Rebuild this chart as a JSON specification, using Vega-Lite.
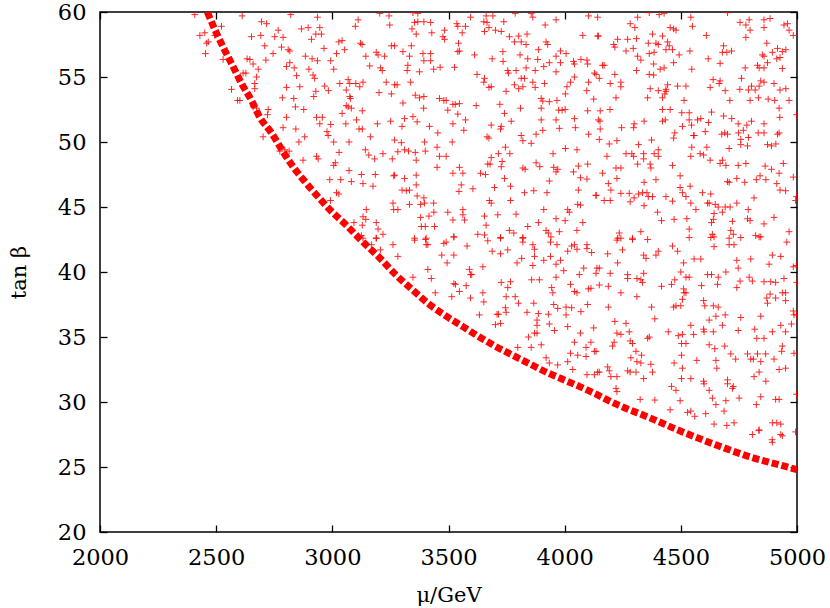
{
"$schema":"https://vega.github.io/schema/vega-lite/v6.json",
"width":697,"height":520,
"autosize":{"type":"none"},
"padding":{"left":100,"top":12,"right":33,"bottom":76},
"background":"white",
"config":{"view":{"stroke":"#000000","strokeWidth":1.5},"font":"DejaVu Serif",
"axis":{"grid":false,"domain":false,"tickColor":"#000000","tickWidth":1.3,"tickSize":-7,"labelFlush":false,"labelFont":"DejaVu Serif","labelFontSize":22.5,"labelColor":"#000000","titleFont":"DejaVu Serif","titleFontSize":21,"titleFontWeight":"normal","titleColor":"#000000"}},
"datasets":{
"curve":[{"mu":2462,"tb":60.0},{"mu":2502,"tb":58.35},{"mu":2530,"tb":57.3},{"mu":2573,"tb":55.8},{"mu":2609,"tb":54.5},{"mu":2652,"tb":53.2},{"mu":2688,"tb":51.9},{"mu":2738,"tb":50.7},{"mu":2788,"tb":49.25},{"mu":2831,"tb":48.1},{"mu":2889,"tb":46.8},{"mu":2953,"tb":45.5},{"mu":2989,"tb":44.8},{"mu":3060,"tb":43.6},{"mu":3132,"tb":42.3},{"mu":3203,"tb":41.1},{"mu":3275,"tb":39.75},{"mu":3347,"tb":38.6},{"mu":3418,"tb":37.5},{"mu":3490,"tb":36.6},{"mu":3562,"tb":35.8},{"mu":3633,"tb":35.0},{"mu":3705,"tb":34.25},{"mu":3776,"tb":33.6},{"mu":3848,"tb":32.95},{"mu":3920,"tb":32.3},{"mu":3991,"tb":31.75},{"mu":4063,"tb":31.2},{"mu":4135,"tb":30.6},{"mu":4220,"tb":29.85},{"mu":4364,"tb":28.8},{"mu":4507,"tb":27.7},{"mu":4651,"tb":26.7},{"mu":4794,"tb":25.8},{"mu":4937,"tb":25.1},{"mu":5000,"tb":24.8}],
"pts":[
{"mu":2408,"tb":59.8},{"mu":2612,"tb":59.7},{"mu":2821,"tb":59.8},{"mu":2936,"tb":59.6},{"mu":3204,"tb":59.9},{"mu":3244,"tb":59.7},{"mu":2695,"tb":59.25},{"mu":2717,"tb":59.1},{"mu":2523,"tb":58.9},{"mu":2867,"tb":58.7},{"mu":2896,"tb":58.8},{"mu":2946,"tb":58.8},{"mu":3099,"tb":58.9},{"mu":3111,"tb":59.4},{"mu":3247,"tb":59.0},{"mu":2430,"tb":58.2},{"mu":2451,"tb":58.4},{"mu":2494,"tb":58.2},{"mu":2652,"tb":58.1},{"mu":2692,"tb":58.2},{"mu":2752,"tb":58.1},{"mu":2767,"tb":58.6},{"mu":2788,"tb":58.05},{"mu":2929,"tb":58.3},{"mu":2953,"tb":58.3},{"mu":2910,"tb":57.9},{"mu":2466,"tb":57.7},{"mu":2459,"tb":57.6},{"mu":3028,"tb":57.7},{"mu":3042,"tb":57.8},{"mu":3121,"tb":57.6},{"mu":3128,"tb":57.5},{"mu":3254,"tb":57.4},{"mu":2709,"tb":57.4},{"mu":2781,"tb":57.3},{"mu":2810,"tb":57.1},{"mu":2817,"tb":57.0},{"mu":2964,"tb":57.2},{"mu":2454,"tb":56.8},{"mu":2745,"tb":56.8},{"mu":3018,"tb":56.8},{"mu":3053,"tb":57.1},{"mu":3189,"tb":56.9},{"mu":3197,"tb":56.7},{"mu":2884,"tb":56.6},{"mu":2913,"tb":56.4},{"mu":2936,"tb":56.25},{"mu":3144,"tb":56.6},{"mu":3225,"tb":56.6},{"mu":2530,"tb":56.35},{"mu":2633,"tb":56.4},{"mu":2645,"tb":56.35},{"mu":2714,"tb":56.3},{"mu":2817,"tb":56.1},{"mu":2993,"tb":56.25},{"mu":2659,"tb":56.0},{"mu":2803,"tb":55.8},{"mu":2836,"tb":55.7},{"mu":2899,"tb":55.6},{"mu":3006,"tb":55.6},{"mu":3161,"tb":55.85},{"mu":3207,"tb":55.7},{"mu":3215,"tb":55.5},{"mu":2681,"tb":55.6},{"mu":2616,"tb":55.3},{"mu":2628,"tb":55.3},{"mu":2846,"tb":55.1},{"mu":2917,"tb":55.15},{"mu":2924,"tb":54.9},{"mu":2674,"tb":55.0},{"mu":2666,"tb":54.5},{"mu":3032,"tb":54.5},{"mu":3068,"tb":54.8},{"mu":3075,"tb":54.5},{"mu":3101,"tb":54.5},{"mu":3118,"tb":54.25},{"mu":3132,"tb":54.6},{"mu":3232,"tb":54.6},{"mu":3268,"tb":54.4},{"mu":2566,"tb":54.05},{"mu":2803,"tb":54.2},{"mu":2860,"tb":54.25},{"mu":2929,"tb":53.9},{"mu":2967,"tb":54.3},{"mu":2983,"tb":53.95},{"mu":2666,"tb":54.1},{"mu":3060,"tb":54.0},{"mu":3075,"tb":53.5},{"mu":3078,"tb":53.35},{"mu":3201,"tb":53.8},{"mu":2592,"tb":53.2},{"mu":2602,"tb":53.2},{"mu":2785,"tb":53.4},{"mu":2834,"tb":53.35},{"mu":2920,"tb":53.5},{"mu":3254,"tb":53.7},{"mu":3060,"tb":52.8},{"mu":3068,"tb":52.7},{"mu":3082,"tb":52.6},{"mu":2659,"tb":52.7},{"mu":2674,"tb":52.6},{"mu":2724,"tb":52.5},{"mu":2721,"tb":52.1},{"mu":2841,"tb":52.7},{"mu":2877,"tb":52.5},{"mu":3129,"tb":52.4},{"mu":3042,"tb":52.2},{"mu":3104,"tb":51.7},{"mu":2803,"tb":51.9},{"mu":2932,"tb":51.9},{"mu":2957,"tb":51.9},{"mu":3251,"tb":51.6},{"mu":2993,"tb":51.35},{"mu":2946,"tb":51.4},{"mu":3058,"tb":51.4},{"mu":3194,"tb":51.4},{"mu":2788,"tb":51.1},{"mu":2843,"tb":51.0},{"mu":2977,"tb":50.8},{"mu":3115,"tb":51.0},{"mu":3129,"tb":51.0},{"mu":2702,"tb":50.4},{"mu":2881,"tb":50.4},{"mu":2856,"tb":50.0},{"mu":2982,"tb":50.5},{"mu":3006,"tb":50.0},{"mu":3072,"tb":50.0},{"mu":3164,"tb":50.4},{"mu":2795,"tb":49.4},{"mu":2774,"tb":49.3},{"mu":2814,"tb":49.3},{"mu":2932,"tb":48.9},{"mu":2939,"tb":48.7},{"mu":3029,"tb":49.2},{"mu":2874,"tb":48.6},{"mu":3142,"tb":49.4},{"mu":3157,"tb":49.0},{"mu":3218,"tb":49.1},{"mu":3258,"tb":48.7},{"mu":3182,"tb":48.7},{"mu":3006,"tb":48.2},{"mu":3013,"tb":48.4},{"mu":3072,"tb":47.8},{"mu":3125,"tb":47.5},{"mu":3185,"tb":47.5},{"mu":3264,"tb":47.4},{"mu":2989,"tb":47.1},{"mu":3036,"tb":47.1},{"mu":3082,"tb":46.95},{"mu":3132,"tb":46.8},{"mu":3175,"tb":46.6},{"mu":3018,"tb":46.1},{"mu":3028,"tb":46.0},{"mu":2992,"tb":45.5},{"mu":3261,"tb":45.3},{"mu":3264,"tb":44.8},{"mu":3146,"tb":44.8},{"mu":3132,"tb":44.25},{"mu":3144,"tb":44.05},{"mu":3093,"tb":43.8},{"mu":3189,"tb":43.8},{"mu":3129,"tb":43.6},{"mu":3197,"tb":43.3},{"mu":3218,"tb":42.9},{"mu":3125,"tb":42.8},{"mu":3189,"tb":42.6},
{"mu":3347,"tb":59.95},{"mu":3368,"tb":59.9},{"mu":3595,"tb":59.6},{"mu":3662,"tb":59.7},{"mu":3691,"tb":59.7},{"mu":3787,"tb":59.9},{"mu":3856,"tb":59.9},{"mu":3863,"tb":59.6},{"mu":3963,"tb":59.4},{"mu":4103,"tb":59.7},{"mu":3354,"tb":59.2},{"mu":3368,"tb":59.25},{"mu":3394,"tb":59.25},{"mu":3423,"tb":59.2},{"mu":3343,"tb":58.7},{"mu":3361,"tb":58.3},{"mu":3428,"tb":58.4},{"mu":3483,"tb":58.6},{"mu":3476,"tb":58.1},{"mu":3483,"tb":57.9},{"mu":3536,"tb":59.1},{"mu":3540,"tb":58.9},{"mu":3573,"tb":58.9},{"mu":3559,"tb":58.4},{"mu":3652,"tb":59.25},{"mu":3666,"tb":59.2},{"mu":3674,"tb":58.8},{"mu":3702,"tb":58.6},{"mu":3727,"tb":58.5},{"mu":3655,"tb":58.5},{"mu":3738,"tb":59.25},{"mu":3762,"tb":58.1},{"mu":3784,"tb":57.7},{"mu":3802,"tb":58.15},{"mu":3838,"tb":58.3},{"mu":3813,"tb":57.7},{"mu":3834,"tb":57.5},{"mu":3916,"tb":59.0},{"mu":3920,"tb":57.7},{"mu":3927,"tb":57.5},{"mu":4078,"tb":58.2},{"mu":4142,"tb":58.15},{"mu":3268,"tb":57.4},{"mu":3304,"tb":56.95},{"mu":3340,"tb":57.4},{"mu":3332,"tb":56.6},{"mu":3390,"tb":56.8},{"mu":3423,"tb":56.8},{"mu":3394,"tb":56.25},{"mu":3423,"tb":56.25},{"mu":3325,"tb":55.9},{"mu":3322,"tb":55.5},{"mu":3375,"tb":55.4},{"mu":3436,"tb":55.6},{"mu":3464,"tb":55.75},{"mu":3526,"tb":55.75},{"mu":3543,"tb":57.6},{"mu":3547,"tb":57.0},{"mu":3540,"tb":56.95},{"mu":3612,"tb":56.7},{"mu":3688,"tb":56.4},{"mu":3734,"tb":56.95},{"mu":3735,"tb":56.2},{"mu":3808,"tb":56.7},{"mu":3841,"tb":56.4},{"mu":3884,"tb":56.35},{"mu":3887,"tb":57.1},{"mu":3934,"tb":56.1},{"mu":3963,"tb":56.6},{"mu":3982,"tb":57.0},{"mu":4006,"tb":56.8},{"mu":3982,"tb":56.1},{"mu":4038,"tb":56.2},{"mu":4042,"tb":56.0},{"mu":4070,"tb":56.35},{"mu":4096,"tb":56.3},{"mu":4099,"tb":56.0},{"mu":4135,"tb":55.2},{"mu":3755,"tb":55.5},{"mu":3758,"tb":55.3},{"mu":3791,"tb":55.5},{"mu":3834,"tb":55.7},{"mu":3873,"tb":55.5},{"mu":3910,"tb":55.8},{"mu":3963,"tb":55.4},{"mu":3623,"tb":55.2},{"mu":3655,"tb":54.9},{"mu":3652,"tb":54.6},{"mu":3674,"tb":54.2},{"mu":3684,"tb":54.25},{"mu":3748,"tb":53.9},{"mu":3784,"tb":54.4},{"mu":3802,"tb":54.1},{"mu":3820,"tb":54.25},{"mu":3813,"tb":54.9},{"mu":3827,"tb":54.9},{"mu":3863,"tb":54.6},{"mu":3873,"tb":54.2},{"mu":3913,"tb":54.5},{"mu":4010,"tb":54.25},{"mu":4025,"tb":54.6},{"mu":4042,"tb":55.0},{"mu":4103,"tb":54.6},{"mu":4095,"tb":53.95},{"mu":3279,"tb":54.4},{"mu":3337,"tb":54.6},{"mu":3357,"tb":53.6},{"mu":3375,"tb":53.4},{"mu":3394,"tb":53.5},{"mu":3461,"tb":53.35},{"mu":3480,"tb":53.2},{"mu":3490,"tb":53.2},{"mu":3519,"tb":52.9},{"mu":3529,"tb":52.9},{"mu":3547,"tb":52.95},{"mu":3619,"tb":52.8},{"mu":3721,"tb":52.9},{"mu":3810,"tb":52.6},{"mu":3899,"tb":53.35},{"mu":3906,"tb":53.15},{"mu":3899,"tb":52.6},{"mu":3934,"tb":53.1},{"mu":3967,"tb":53.2},{"mu":4003,"tb":53.7},{"mu":3974,"tb":52.45},{"mu":3989,"tb":52.45},{"mu":4002,"tb":52.5},{"mu":4099,"tb":52.4},{"mu":4125,"tb":53.3},{"mu":3304,"tb":53.0},{"mu":3393,"tb":52.6},{"mu":3497,"tb":52.45},{"mu":3540,"tb":52.15},{"mu":3311,"tb":51.8},{"mu":3347,"tb":51.95},{"mu":3365,"tb":51.55},{"mu":3300,"tb":51.2},{"mu":3418,"tb":51.2},{"mu":3454,"tb":50.7},{"mu":3519,"tb":51.4},{"mu":3573,"tb":51.7},{"mu":3566,"tb":50.9},{"mu":3684,"tb":51.3},{"mu":3727,"tb":51.2},{"mu":3724,"tb":51.0},{"mu":3741,"tb":52.2},{"mu":3770,"tb":51.6},{"mu":3813,"tb":50.5},{"mu":3820,"tb":50.1},{"mu":3856,"tb":49.9},{"mu":3877,"tb":50.6},{"mu":3899,"tb":51.7},{"mu":3906,"tb":50.9},{"mu":3963,"tb":51.7},{"mu":3977,"tb":51.05},{"mu":4042,"tb":51.8},{"mu":4046,"tb":51.1},{"mu":4103,"tb":50.6},{"mu":4145,"tb":51.7},{"mu":3268,"tb":50.15},{"mu":3297,"tb":49.95},{"mu":3282,"tb":49.25},{"mu":3311,"tb":49.4},{"mu":3328,"tb":49.3},{"mu":3357,"tb":49.2},{"mu":3361,"tb":48.6},{"mu":3397,"tb":50.0},{"mu":3400,"tb":49.3},{"mu":3451,"tb":49.6},{"mu":3461,"tb":48.9},{"mu":3490,"tb":48.9},{"mu":3516,"tb":50.0},{"mu":3666,"tb":50.4},{"mu":3674,"tb":50.3},{"mu":3745,"tb":49.6},{"mu":3764,"tb":49.1},{"mu":3715,"tb":49.1},{"mu":3684,"tb":48.8},{"mu":3669,"tb":48.3},{"mu":3679,"tb":48.3},{"mu":3731,"tb":48.5},{"mu":3727,"tb":48.1},{"mu":3820,"tb":48.0},{"mu":3830,"tb":47.9},{"mu":3877,"tb":48.4},{"mu":3893,"tb":48.1},{"mu":3950,"tb":49.1},{"mu":3953,"tb":48.05},{"mu":3963,"tb":47.7},{"mu":3970,"tb":47.9},{"mu":4003,"tb":49.5},{"mu":4053,"tb":49.4},{"mu":4059,"tb":48.15},{"mu":4099,"tb":48.3},{"mu":3451,"tb":48.05},{"mu":3519,"tb":47.6},{"mu":3547,"tb":48.05},{"mu":3562,"tb":47.6},{"mu":3638,"tb":47.6},{"mu":3659,"tb":47.5},{"mu":3741,"tb":47.2},{"mu":3767,"tb":46.6},{"mu":3827,"tb":46.1},{"mu":3867,"tb":46.25},{"mu":3924,"tb":46.1},{"mu":3934,"tb":47.0},{"mu":4038,"tb":47.7},{"mu":4068,"tb":47.25},{"mu":4096,"tb":47.15},{"mu":4059,"tb":46.3},{"mu":4135,"tb":45.9},{"mu":3268,"tb":47.45},{"mu":3311,"tb":47.2},{"mu":3361,"tb":47.45},{"mu":3300,"tb":46.3},{"mu":3318,"tb":46.25},{"mu":3332,"tb":46.3},{"mu":3361,"tb":46.7},{"mu":3365,"tb":45.85},{"mu":3394,"tb":45.7},{"mu":3332,"tb":45.2},{"mu":3380,"tb":45.2},{"mu":3397,"tb":45.3},{"mu":3436,"tb":45.3},{"mu":3545,"tb":46.2},{"mu":3555,"tb":46.7},{"mu":3605,"tb":46.4},{"mu":3698,"tb":46.5},{"mu":3676,"tb":45.5},{"mu":3684,"tb":45.3},{"mu":3767,"tb":45.5},{"mu":3282,"tb":44.8},{"mu":3380,"tb":44.2},{"mu":3416,"tb":44.3},{"mu":3437,"tb":44.6},{"mu":3497,"tb":44.6},{"mu":3562,"tb":44.8},{"mu":3562,"tb":44.4},{"mu":3569,"tb":44.0},{"mu":3519,"tb":44.0},{"mu":3655,"tb":44.3},{"mu":3662,"tb":43.6},{"mu":3712,"tb":44.4},{"mu":3791,"tb":44.45},{"mu":3841,"tb":43.5},{"mu":3887,"tb":43.8},{"mu":3910,"tb":44.8},{"mu":3920,"tb":43.2},{"mu":3930,"tb":43.0},{"mu":3963,"tb":44.1},{"mu":4002,"tb":43.95},{"mu":4013,"tb":44.8},{"mu":4020,"tb":44.6},{"mu":4056,"tb":45.2},{"mu":4068,"tb":45.15},{"mu":4078,"tb":43.8},{"mu":4053,"tb":43.2},{"mu":3383,"tb":43.5},{"mu":3400,"tb":43.5},{"mu":3440,"tb":43.5},{"mu":3523,"tb":42.7},{"mu":3404,"tb":42.6},{"mu":3354,"tb":42.6},{"mu":3626,"tb":42.9},{"mu":3655,"tb":42.85},{"mu":3724,"tb":42.6},{"mu":3762,"tb":43.2},{"mu":3781,"tb":43.0},{"mu":3820,"tb":42.6},{"mu":3941,"tb":42.7},{"mu":3977,"tb":43.1},
{"mu":4142,"tb":59.6},{"mu":4314,"tb":59.6},{"mu":4364,"tb":59.95},{"mu":4407,"tb":59.8},{"mu":4428,"tb":59.9},{"mu":4543,"tb":59.6},{"mu":4550,"tb":58.9},{"mu":4701,"tb":59.95},{"mu":4755,"tb":59.2},{"mu":4780,"tb":59.0},{"mu":4794,"tb":59.4},{"mu":4798,"tb":58.6},{"mu":4858,"tb":59.4},{"mu":4858,"tb":58.8},{"mu":4884,"tb":59.5},{"mu":4944,"tb":59.0},{"mu":4959,"tb":59.1},{"mu":4966,"tb":58.6},{"mu":4984,"tb":58.2},{"mu":4282,"tb":59.1},{"mu":4302,"tb":58.8},{"mu":4454,"tb":58.8},{"mu":4469,"tb":58.7},{"mu":4479,"tb":58.6},{"mu":4145,"tb":58.15},{"mu":4228,"tb":57.9},{"mu":4211,"tb":57.5},{"mu":4216,"tb":57.3},{"mu":4271,"tb":57.9},{"mu":4309,"tb":57.95},{"mu":4378,"tb":58.3},{"mu":4421,"tb":58.15},{"mu":4360,"tb":57.6},{"mu":4393,"tb":57.6},{"mu":4403,"tb":57.5},{"mu":4443,"tb":57.7},{"mu":4450,"tb":57.4},{"mu":4464,"tb":57.1},{"mu":4493,"tb":56.7},{"mu":4610,"tb":58.2},{"mu":4780,"tb":58.05},{"mu":4870,"tb":57.6},{"mu":4264,"tb":57.0},{"mu":4295,"tb":57.2},{"mu":4314,"tb":56.6},{"mu":4328,"tb":56.3},{"mu":4364,"tb":56.8},{"mu":4385,"tb":56.9},{"mu":4436,"tb":57.1},{"mu":4684,"tb":57.4},{"mu":4679,"tb":56.9},{"mu":4698,"tb":56.9},{"mu":4718,"tb":57.0},{"mu":4539,"tb":57.0},{"mu":4851,"tb":56.7},{"mu":4858,"tb":56.6},{"mu":4894,"tb":56.9},{"mu":4916,"tb":57.2},{"mu":4937,"tb":56.95},{"mu":4952,"tb":57.1},{"mu":4163,"tb":55.9},{"mu":4170,"tb":55.9},{"mu":4216,"tb":55.2},{"mu":4309,"tb":55.5},{"mu":4364,"tb":55.2},{"mu":4383,"tb":56.0},{"mu":4411,"tb":55.6},{"mu":4428,"tb":55.7},{"mu":4469,"tb":56.1},{"mu":4547,"tb":55.6},{"mu":4618,"tb":56.4},{"mu":4669,"tb":56.05},{"mu":4777,"tb":55.7},{"mu":4830,"tb":55.9},{"mu":4837,"tb":55.7},{"mu":4858,"tb":55.7},{"mu":4873,"tb":56.1},{"mu":4913,"tb":56.4},{"mu":4927,"tb":56.5},{"mu":4937,"tb":55.65},{"mu":4128,"tb":55.3},{"mu":4149,"tb":54.9},{"mu":4196,"tb":54.5},{"mu":4242,"tb":54.6},{"mu":4242,"tb":54.25},{"mu":4368,"tb":54.1},{"mu":4383,"tb":55.15},{"mu":4403,"tb":53.95},{"mu":4436,"tb":53.9},{"mu":4443,"tb":54.4},{"mu":4431,"tb":53.7},{"mu":4436,"tb":54.05},{"mu":4486,"tb":54.3},{"mu":4522,"tb":54.3},{"mu":4514,"tb":53.2},{"mu":4626,"tb":54.2},{"mu":4639,"tb":54.8},{"mu":4665,"tb":54.5},{"mu":4669,"tb":54.7},{"mu":4691,"tb":53.95},{"mu":4754,"tb":54.05},{"mu":4761,"tb":54.9},{"mu":4791,"tb":54.0},{"mu":4804,"tb":54.3},{"mu":4820,"tb":54.0},{"mu":4837,"tb":54.3},{"mu":4844,"tb":54.7},{"mu":4858,"tb":54.6},{"mu":4901,"tb":54.5},{"mu":4927,"tb":54.0},{"mu":4952,"tb":54.1},{"mu":4966,"tb":53.2},{"mu":4221,"tb":53.4},{"mu":4357,"tb":53.4},{"mu":4421,"tb":53.4},{"mu":4711,"tb":53.2},{"mu":4798,"tb":53.2},{"mu":4834,"tb":53.4},{"mu":4876,"tb":53.3},{"mu":4904,"tb":53.2},{"mu":4923,"tb":52.6},{"mu":4153,"tb":52.4},{"mu":4195,"tb":52.5},{"mu":4152,"tb":51.6},{"mu":4245,"tb":51.1},{"mu":4153,"tb":51.0},{"mu":4299,"tb":51.4},{"mu":4297,"tb":51.1},{"mu":4342,"tb":51.6},{"mu":4421,"tb":52.5},{"mu":4454,"tb":52.5},{"mu":4504,"tb":52.25},{"mu":4536,"tb":52.25},{"mu":4421,"tb":51.6},{"mu":4433,"tb":51.7},{"mu":4474,"tb":50.7},{"mu":4507,"tb":51.2},{"mu":4536,"tb":51.7},{"mu":4546,"tb":51.3},{"mu":4555,"tb":50.5},{"mu":4572,"tb":51.7},{"mu":4586,"tb":51.8},{"mu":4619,"tb":51.5},{"mu":4605,"tb":50.8},{"mu":4632,"tb":52.3},{"mu":4684,"tb":52.0},{"mu":4719,"tb":51.8},{"mu":4747,"tb":51.4},{"mu":4784,"tb":51.3},{"mu":4804,"tb":51.6},{"mu":4858,"tb":51.4},{"mu":4926,"tb":51.9},{"mu":4748,"tb":50.7},{"mu":4769,"tb":50.9},{"mu":4689,"tb":50.7},{"mu":4676,"tb":50.6},{"mu":4701,"tb":50.6},{"mu":4758,"tb":50.2},{"mu":4791,"tb":50.35},{"mu":4833,"tb":50.7},{"mu":4858,"tb":50.7},{"mu":4916,"tb":50.6},{"mu":4923,"tb":50.7},{"mu":4149,"tb":50.2},{"mu":4192,"tb":49.85},{"mu":4225,"tb":50.1},{"mu":4318,"tb":49.8},{"mu":4374,"tb":50.15},{"mu":4403,"tb":49.4},{"mu":4469,"tb":50.3},{"mu":4557,"tb":50.5},{"mu":4547,"tb":49.6},{"mu":4543,"tb":48.9},{"mu":4583,"tb":49.1},{"mu":4598,"tb":49.0},{"mu":4612,"tb":49.6},{"mu":4626,"tb":48.6},{"mu":4708,"tb":49.5},{"mu":4758,"tb":49.8},{"mu":4787,"tb":49.7},{"mu":4873,"tb":49.8},{"mu":4890,"tb":49.7},{"mu":4909,"tb":49.85},{"mu":4182,"tb":48.9},{"mu":4264,"tb":49.1},{"mu":4289,"tb":49.1},{"mu":4297,"tb":48.9},{"mu":4340,"tb":49.1},{"mu":4385,"tb":49.1},{"mu":4403,"tb":48.9},{"mu":4314,"tb":48.3},{"mu":4340,"tb":48.7},{"mu":4368,"tb":48.3},{"mu":4371,"tb":48.0},{"mu":4464,"tb":48.2},{"mu":4669,"tb":48.35},{"mu":4679,"tb":48.6},{"mu":4694,"tb":48.2},{"mu":4747,"tb":48.2},{"mu":4780,"tb":48.35},{"mu":4863,"tb":48.15},{"mu":4890,"tb":47.9},{"mu":4941,"tb":48.35},{"mu":4984,"tb":47.3},{"mu":4163,"tb":47.6},{"mu":4221,"tb":48.0},{"mu":4242,"tb":48.0},{"mu":4225,"tb":47.2},{"mu":4393,"tb":47.1},{"mu":4342,"tb":46.9},{"mu":4497,"tb":47.4},{"mu":4540,"tb":46.6},{"mu":4497,"tb":46.5},{"mu":4701,"tb":46.95},{"mu":4708,"tb":46.9},{"mu":4741,"tb":47.2},{"mu":4775,"tb":46.9},{"mu":4825,"tb":47.1},{"mu":4841,"tb":47.4},{"mu":4866,"tb":47.1},{"mu":4913,"tb":46.8},{"mu":4923,"tb":47.6},{"mu":4188,"tb":46.8},{"mu":4199,"tb":46.3},{"mu":4135,"tb":45.9},{"mu":4170,"tb":45.5},{"mu":4196,"tb":45.5},{"mu":4242,"tb":46.05},{"mu":4278,"tb":46.05},{"mu":4299,"tb":45.7},{"mu":4318,"tb":46.0},{"mu":4335,"tb":46.1},{"mu":4354,"tb":46.1},{"mu":4360,"tb":45.8},{"mu":4378,"tb":45.8},{"mu":4436,"tb":45.8},{"mu":4464,"tb":45.45},{"mu":4507,"tb":46.1},{"mu":4522,"tb":45.8},{"mu":4543,"tb":45.3},{"mu":4593,"tb":46.1},{"mu":4629,"tb":46.0},{"mu":4622,"tb":45.3},{"mu":4282,"tb":45.4},{"mu":4342,"tb":45.1},{"mu":4400,"tb":44.6},{"mu":4417,"tb":43.95},{"mu":4471,"tb":44.05},{"mu":4526,"tb":44.1},{"mu":4565,"tb":44.8},{"mu":4615,"tb":45.3},{"mu":4648,"tb":45.2},{"mu":4661,"tb":45.0},{"mu":4691,"tb":45.0},{"mu":4712,"tb":45.0},{"mu":4741,"tb":45.3},{"mu":4790,"tb":44.8},{"mu":4815,"tb":45.7},{"mu":4927,"tb":46.3},{"mu":4951,"tb":46.25},{"mu":4643,"tb":44.5},{"mu":4640,"tb":44.05},{"mu":4632,"tb":43.8},{"mu":4679,"tb":44.6},{"mu":4722,"tb":43.9},{"mu":4787,"tb":44.1},{"mu":4798,"tb":43.95},{"mu":4858,"tb":43.7},{"mu":4901,"tb":44.2},{"mu":4994,"tb":45.5},{"mu":4235,"tb":43.0},{"mu":4328,"tb":43.1},{"mu":4536,"tb":43.3},{"mu":4636,"tb":42.9},{"mu":4643,"tb":42.7},{"mu":4715,"tb":43.2},{"mu":4726,"tb":42.9},{"mu":4758,"tb":42.65},{"mu":4822,"tb":42.8},{"mu":4844,"tb":42.7},{"mu":4966,"tb":43.1},{"mu":4228,"tb":42.6},{"mu":4292,"tb":42.6},{"mu":4357,"tb":42.5},
{"mu":3132,"tb":42.6},{"mu":3168,"tb":42.1},{"mu":3189,"tb":42.6},{"mu":3207,"tb":41.7},{"mu":3261,"tb":42.1},
{"mu":3354,"tb":42.45},{"mu":3401,"tb":42.5},{"mu":3404,"tb":42.1},{"mu":3411,"tb":42.1},{"mu":3480,"tb":42.2},{"mu":3490,"tb":42.3},{"mu":3523,"tb":42.7},{"mu":3580,"tb":42.0},{"mu":3669,"tb":42.4},{"mu":3724,"tb":42.65},{"mu":3724,"tb":41.4},{"mu":3688,"tb":41.6},{"mu":3755,"tb":41.7},{"mu":3820,"tb":42.65},{"mu":3820,"tb":42.3},{"mu":3863,"tb":42.1},{"mu":3870,"tb":41.75},{"mu":3939,"tb":42.3},{"mu":3967,"tb":42.1},{"mu":4013,"tb":41.6},{"mu":4030,"tb":42.0},{"mu":4053,"tb":41.75},{"mu":4096,"tb":41.8},{"mu":4096,"tb":42.1},{"mu":4116,"tb":41.5},{"mu":3282,"tb":41.2},{"mu":3471,"tb":41.3},{"mu":3523,"tb":41.3},{"mu":3494,"tb":40.7},{"mu":3648,"tb":40.4},{"mu":3815,"tb":41.05},{"mu":3795,"tb":40.7},{"mu":3863,"tb":40.5},{"mu":3870,"tb":41.2},{"mu":3910,"tb":40.9},{"mu":3939,"tb":41.2},{"mu":3963,"tb":40.6},{"mu":3982,"tb":40.9},{"mu":3996,"tb":40.1},{"mu":3963,"tb":39.6},{"mu":4042,"tb":42.1},{"mu":4082,"tb":40.3},{"mu":4139,"tb":40.3},{"mu":4135,"tb":39.9},{"mu":4063,"tb":39.8},{"mu":3411,"tb":40.2},{"mu":3426,"tb":39.5},{"mu":3347,"tb":39.6},{"mu":3590,"tb":40.2},{"mu":3595,"tb":39.8},{"mu":3600,"tb":39.8},{"mu":3523,"tb":39.1},{"mu":3530,"tb":39.05},{"mu":3576,"tb":38.95},{"mu":3547,"tb":38.5},{"mu":3514,"tb":38.1},{"mu":3443,"tb":38.4},{"mu":3595,"tb":38.0},{"mu":3648,"tb":38.4},{"mu":3652,"tb":37.7},{"mu":3727,"tb":39.2},{"mu":3767,"tb":39.25},{"mu":3755,"tb":38.8},{"mu":3748,"tb":38.1},{"mu":3787,"tb":38.1},{"mu":3801,"tb":37.6},{"mu":3858,"tb":39.4},{"mu":3891,"tb":39.4},{"mu":3944,"tb":38.8},{"mu":3949,"tb":38.4},{"mu":4025,"tb":39.05},{"mu":4042,"tb":38.5},{"mu":4053,"tb":38.4},{"mu":4102,"tb":38.7},{"mu":4113,"tb":38.75},{"mu":3633,"tb":36.7},{"mu":3709,"tb":36.75},{"mu":3715,"tb":36.75},{"mu":3745,"tb":37.25},{"mu":3748,"tb":36.9},{"mu":3838,"tb":36.9},{"mu":3867,"tb":37.6},{"mu":3887,"tb":36.8},{"mu":3930,"tb":36.75},{"mu":3953,"tb":37.5},{"mu":3970,"tb":37.2},{"mu":4006,"tb":37.3},{"mu":4006,"tb":36.7},{"mu":4030,"tb":37.25},{"mu":4099,"tb":37.5},{"mu":4070,"tb":36.95},{"mu":3702,"tb":35.95},{"mu":3724,"tb":36.05},{"mu":3881,"tb":36.3},{"mu":3881,"tb":35.9},{"mu":3934,"tb":36.0},{"mu":3956,"tb":35.5},{"mu":4013,"tb":35.8},{"mu":4125,"tb":35.7},{"mu":3798,"tb":34.2},{"mu":3844,"tb":35.0},{"mu":3870,"tb":35.3},{"mu":3881,"tb":35.3},{"mu":3899,"tb":34.4},{"mu":3856,"tb":34.2},{"mu":4042,"tb":34.6},{"mu":4068,"tb":35.3},{"mu":4113,"tb":34.6},{"mu":4092,"tb":34.2},{"mu":4135,"tb":33.9},{"mu":3920,"tb":33.4},{"mu":3934,"tb":33.0},{"mu":3970,"tb":32.85},{"mu":4013,"tb":33.1},{"mu":4025,"tb":33.75},{"mu":4056,"tb":33.6},{"mu":4092,"tb":33.5},{"mu":4035,"tb":32.5},{"mu":4096,"tb":32.1},{"mu":4128,"tb":32.1},{"mu":4142,"tb":32.3},
{"mu":4225,"tb":42.45},{"mu":4242,"tb":42.6},{"mu":4292,"tb":42.5},{"mu":4249,"tb":41.7},{"mu":4185,"tb":41.4},{"mu":4149,"tb":40.3},{"mu":4228,"tb":40.7},{"mu":4340,"tb":41.3},{"mu":4350,"tb":41.05},{"mu":4393,"tb":41.3},{"mu":4403,"tb":41.6},{"mu":4464,"tb":42.0},{"mu":4486,"tb":41.6},{"mu":4536,"tb":42.65},{"mu":4512,"tb":40.7},{"mu":4557,"tb":41.0},{"mu":4586,"tb":41.0},{"mu":4643,"tb":41.95},{"mu":4629,"tb":42.65},{"mu":4708,"tb":42.6},{"mu":4708,"tb":42.1},{"mu":4729,"tb":42.1},{"mu":4741,"tb":40.9},{"mu":4747,"tb":40.3},{"mu":4801,"tb":41.0},{"mu":4837,"tb":42.7},{"mu":4894,"tb":41.3},{"mu":4930,"tb":41.2},{"mu":4880,"tb":40.6},{"mu":4956,"tb":42.3},{"mu":4984,"tb":40.4},{"mu":4196,"tb":39.9},{"mu":4271,"tb":39.8},{"mu":4271,"tb":39.5},{"mu":4311,"tb":39.5},{"mu":4328,"tb":39.4},{"mu":4340,"tb":39.9},{"mu":4335,"tb":39.2},{"mu":4417,"tb":38.9},{"mu":4460,"tb":39.05},{"mu":4474,"tb":39.4},{"mu":4500,"tb":40.0},{"mu":4522,"tb":39.6},{"mu":4536,"tb":39.6},{"mu":4512,"tb":38.7},{"mu":4522,"tb":38.4},{"mu":4589,"tb":38.95},{"mu":4658,"tb":39.05},{"mu":4615,"tb":39.8},{"mu":4632,"tb":39.8},{"mu":4661,"tb":39.6},{"mu":4694,"tb":40.0},{"mu":4741,"tb":38.8},{"mu":4755,"tb":39.3},{"mu":4794,"tb":39.6},{"mu":4808,"tb":39.3},{"mu":4858,"tb":39.25},{"mu":4887,"tb":39.25},{"mu":4908,"tb":39.2},{"mu":4944,"tb":39.5},{"mu":4951,"tb":38.4},{"mu":4149,"tb":39.0},{"mu":4188,"tb":38.9},{"mu":4242,"tb":38.4},{"mu":4311,"tb":38.1},{"mu":4188,"tb":37.3},{"mu":4374,"tb":37.3},{"mu":4388,"tb":36.4},{"mu":4469,"tb":37.3},{"mu":4479,"tb":37.4},{"mu":4500,"tb":37.4},{"mu":4507,"tb":37.9},{"mu":4514,"tb":38.4},{"mu":4598,"tb":37.8},{"mu":4603,"tb":37.4},{"mu":4640,"tb":37.4},{"mu":4661,"tb":37.3},{"mu":4691,"tb":36.7},{"mu":4651,"tb":36.6},{"mu":4622,"tb":36.3},{"mu":4758,"tb":36.5},{"mu":4844,"tb":36.6},{"mu":4884,"tb":38.3},{"mu":4870,"tb":38.0},{"mu":4873,"tb":37.6},{"mu":4908,"tb":38.0},{"mu":4951,"tb":37.8},{"mu":4937,"tb":38.4},{"mu":4984,"tb":37.0},{"mu":4987,"tb":36.7},{"mu":4976,"tb":36.0},{"mu":4930,"tb":35.9},{"mu":4951,"tb":35.4},{"mu":4894,"tb":35.4},{"mu":4858,"tb":34.9},{"mu":4827,"tb":34.9},{"mu":4818,"tb":35.6},{"mu":4747,"tb":35.5},{"mu":4679,"tb":35.9},{"mu":4640,"tb":35.4},{"mu":4600,"tb":35.4},{"mu":4543,"tb":35.9},{"mu":4555,"tb":35.2},{"mu":4598,"tb":35.6},{"mu":4507,"tb":35.2},{"mu":4489,"tb":35.1},{"mu":4503,"tb":34.5},{"mu":4522,"tb":34.5},{"mu":4446,"tb":35.4},{"mu":4364,"tb":35.0},{"mu":4357,"tb":34.9},{"mu":4278,"tb":35.4},{"mu":4264,"tb":36.05},{"mu":4216,"tb":36.2},{"mu":4225,"tb":35.3},{"mu":4242,"tb":35.2},{"mu":4213,"tb":34.6},{"mu":4206,"tb":34.3},{"mu":4282,"tb":34.7},{"mu":4292,"tb":34.5},{"mu":4307,"tb":33.9},{"mu":4331,"tb":33.6},{"mu":4285,"tb":33.4},{"mu":4311,"tb":33.1},{"mu":4328,"tb":33.0},{"mu":4307,"tb":32.3},{"mu":4371,"tb":32.9},{"mu":4378,"tb":32.3},{"mu":4340,"tb":31.8},{"mu":4271,"tb":32.4},{"mu":4282,"tb":32.3},{"mu":4185,"tb":32.7},{"mu":4192,"tb":32.4},{"mu":4149,"tb":32.3},{"mu":4199,"tb":31.95},{"mu":4225,"tb":31.95},{"mu":4221,"tb":31.05},{"mu":4225,"tb":30.8},{"mu":4128,"tb":33.9},{"mu":4325,"tb":30.2},{"mu":4388,"tb":30.15},{"mu":4454,"tb":29.4},{"mu":4479,"tb":30.9},{"mu":4471,"tb":33.0},{"mu":4503,"tb":33.6},{"mu":4507,"tb":32.6},{"mu":4503,"tb":31.8},{"mu":4543,"tb":31.8},{"mu":4569,"tb":33.2},{"mu":4598,"tb":31.6},{"mu":4600,"tb":31.4},{"mu":4622,"tb":30.9},{"mu":4636,"tb":30.3},{"mu":4651,"tb":29.8},{"mu":4694,"tb":30.1},{"mu":4686,"tb":29.3},{"mu":4729,"tb":28.4},{"mu":4698,"tb":28.2},{"mu":4643,"tb":28.3},{"mu":4607,"tb":29.1},{"mu":4560,"tb":28.9},{"mu":4543,"tb":29.3},{"mu":4529,"tb":29.2},{"mu":4497,"tb":30.1},{"mu":4460,"tb":31.2},{"mu":4622,"tb":34.4},{"mu":4646,"tb":34.1},{"mu":4651,"tb":33.2},{"mu":4655,"tb":32.6},{"mu":4689,"tb":34.3},{"mu":4701,"tb":31.7},{"mu":4701,"tb":31.4},{"mu":4715,"tb":33.7},{"mu":4736,"tb":33.3},{"mu":4787,"tb":33.7},{"mu":4801,"tb":33.3},{"mu":4812,"tb":33.3},{"mu":4830,"tb":33.7},{"mu":4844,"tb":33.1},{"mu":4865,"tb":33.7},{"mu":4901,"tb":33.3},{"mu":4923,"tb":32.5},{"mu":4951,"tb":32.6},{"mu":4934,"tb":33.9},{"mu":4987,"tb":33.75},{"mu":4937,"tb":34.3},{"mu":4815,"tb":31.95},{"mu":4837,"tb":32.3},{"mu":4866,"tb":31.6},{"mu":4844,"tb":30.4},{"mu":4908,"tb":30.2},{"mu":4923,"tb":30.2},{"mu":4825,"tb":29.8},{"mu":4751,"tb":30.3},{"mu":4722,"tb":31.05},{"mu":4726,"tb":31.2},{"mu":4837,"tb":27.85},{"mu":4808,"tb":27.5},{"mu":4894,"tb":28.4},{"mu":4930,"tb":28.3},{"mu":4937,"tb":27.4},{"mu":4894,"tb":26.9},{"mu":4994,"tb":27.7},{"mu":4913,"tb":28.4},{"mu":4930,"tb":27.5},{"mu":4893,"tb":27.1},{"mu":4836,"tb":27.8},{"mu":4998,"tb":45.8},{"mu":4997,"tb":40.5},{"mu":4999,"tb":39.2},{"mu":4998,"tb":36.7},{"mu":4998,"tb":30.6},{"mu":4999,"tb":52.1}
]},
"layer":[
{"data":{"name":"curve"},
 "mark":{"type":"line","color":"#ff0000","strokeWidth":7,"strokeDash":[7,3],"strokeCap":"butt","clip":true,"interpolate":"monotone"},
 "encoding":{
  "x":{"field":"mu","type":"quantitative","scale":{"domain":[2000,5000],"nice":false,"zero":false},"axis":{"orient":"top","labels":false,"title":null,"values":[2000,2500,3000,3500,4000,4500,5000]}},
  "y":{"field":"tb","type":"quantitative","scale":{"domain":[20,60],"nice":false,"zero":false},"axis":{"orient":"right","labels":false,"title":null,"values":[20,25,30,35,40,45,50,55,60]}}}},
{"data":{"name":"pts"},
 "mark":{"type":"point","shape":"M-1,0L1,0M0,-1L0,1","size":45,"filled":false,"color":"#ff0000","strokeWidth":1,"opacity":0.85,"clip":true},
 "encoding":{
  "x":{"field":"mu","type":"quantitative","scale":{"domain":[2000,5000],"nice":false,"zero":false},"axis":{"orient":"bottom","title":"μ/GeV","values":[2000,2500,3000,3500,4000,4500,5000],"format":"d","labelPadding":21,"titlePadding":16}},
  "y":{"field":"tb","type":"quantitative","scale":{"domain":[20,60],"nice":false,"zero":false},"axis":{"orient":"left","title":"tan β","values":[20,25,30,35,40,45,50,55,60],"format":"d","labelPadding":21,"titlePadding":28}}}}
],
"resolve":{"axis":{"x":"independent","y":"independent"}}
}
